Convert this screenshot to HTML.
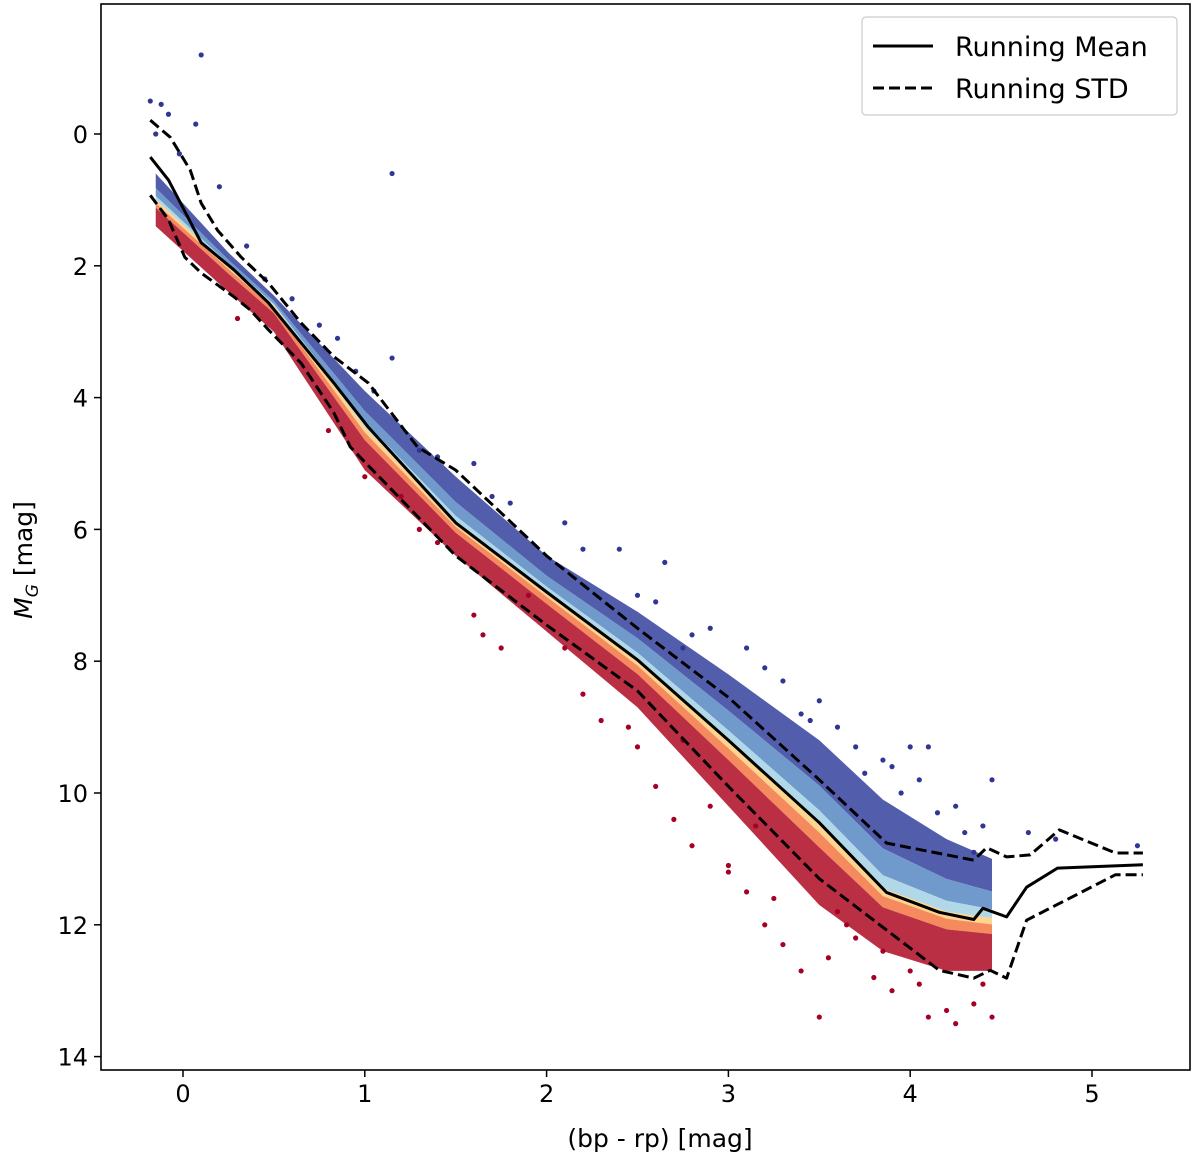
<!DOCTYPE html>
<html><head><meta charset="utf-8"><style>
html,body{margin:0;padding:0;background:#fff;}
svg{display:block;font-family:"DejaVu Sans","Liberation Sans",sans-serif;}
</style></head><body>
<svg id="chart" width="1200" height="1160" viewBox="0 0 1200 1160" xmlns="http://www.w3.org/2000/svg">
<g id="bands"></g>
<g id="dots"></g>
<g id="lines"></g>
<rect x="101" y="4" width="1089" height="1066" fill="none" stroke="#000" stroke-width="1.6"/>
<g id="xticks"></g>
<g id="yticks"></g>
<text x="660" y="1147" font-size="25" text-anchor="middle">(bp - rp) [mag]</text>
<text transform="translate(32,560) rotate(-90)" font-size="25" text-anchor="middle"><tspan font-style="italic">M</tspan><tspan font-style="italic" font-size="17" dy="6">G</tspan><tspan dy="-6"> [mag]</tspan></text>
<g>
<rect x="862" y="17" width="315" height="98" rx="4" fill="#fff" fill-opacity="0.8" stroke="#ccc" stroke-width="1.2"/>
<line x1="873" y1="46" x2="933" y2="46" stroke="#000" stroke-width="3"/>
<text x="955" y="56" font-size="27">Running Mean</text>
<line x1="873" y1="88" x2="933" y2="88" stroke="#000" stroke-width="3" stroke-dasharray="11,5"/>
<text x="955" y="98" font-size="27">Running STD</text>
</g>
</svg>
<script>
const xTicks=[0,1,2,3,4,5];
const yTicks=[0,2,4,6,8,10,12,14];
const meanX=[-0.18,-0.08,0.1,0.28,0.47,0.65,0.83,1.02,1.5,2.0,2.5,3.0,3.5,3.87,4.16,4.35,4.4,4.53,4.64,4.81,5.28];
const meanY=[0.35,0.7,1.65,2.06,2.56,3.17,3.78,4.45,5.9,6.95,7.98,9.2,10.45,11.51,11.81,11.92,11.75,11.88,11.43,11.14,11.09];
const upX=[-0.18,-0.07,0.04,0.1,0.19,0.32,0.47,0.65,0.83,1.02,1.29,1.5,2.0,2.5,3.0,3.5,3.87,4.35,4.42,4.53,4.66,4.82,5.13,5.28];
const upY=[-0.21,0.05,0.55,1.05,1.46,1.87,2.26,2.87,3.38,3.78,4.75,5.1,6.4,7.5,8.55,9.8,10.76,11.02,10.83,10.97,10.94,10.56,10.91,10.91];
const loX=[-0.18,-0.08,0.01,0.1,0.28,0.37,0.47,0.65,0.83,0.92,1.5,2.0,2.5,3.0,3.5,4.16,4.35,4.44,4.53,4.64,5.13,5.28];
const loY=[0.93,1.3,1.87,2.11,2.47,2.67,2.97,3.48,4.23,4.75,6.4,7.45,8.45,9.9,11.3,12.69,12.81,12.69,12.81,11.93,11.24,11.24];
const bandX=[-0.15,0.25,0.5,1.0,1.5,2.0,2.5,3.0,3.5,3.85,4.2,4.45];
const bandTop=[0.6,1.8,2.45,3.9,5.2,6.4,7.25,8.2,9.2,10.1,10.7,11.0];
const bandMid=[1.0,2.0,2.6,4.45,5.9,6.95,7.98,9.2,10.45,11.45,11.8,11.9];
const bandBot=[1.4,2.4,3.0,5.1,6.4,7.55,8.7,10.2,11.7,12.4,12.7,12.7];
const blueX=[0.1,-0.18,-0.12,-0.08,0.07,-0.15,-0.02,0.2,0.35,0.45,0.6,0.75,0.85,0.95,1.05,1.15,1.3,1.6,1.8,2.1,2.4,2.65,2.6,2.9,3.1,3.3,3.5,3.6,3.7,3.85,3.9,4.0,4.05,4.1,4.25,4.3,4.35,4.45,4.65,4.8,5.25,1.15,2.75,3.45,3.95,1.4,1.7,2.2,2.5,2.8,3.2,3.4,3.75,4.15,4.4];
const blueY=[-1.2,-0.5,-0.45,-0.3,-0.15,0.0,0.3,0.8,1.7,2.2,2.5,2.9,3.1,3.6,3.9,3.4,4.8,5.0,5.6,5.9,6.3,6.5,7.1,7.5,7.8,8.3,8.6,9.0,9.3,9.5,9.6,9.3,9.8,9.3,10.2,10.6,10.9,9.8,10.6,10.7,10.8,0.6,7.8,8.9,10.0,4.9,5.5,6.3,7.0,7.6,8.1,8.8,9.7,10.3,10.5];
const redX=[0.3,0.8,1.2,1.4,1.6,1.65,1.75,2.2,2.3,2.5,2.6,2.7,2.8,2.9,3.0,3.1,3.2,3.3,3.4,3.5,3.55,3.7,3.8,3.9,4.0,4.1,4.2,4.25,4.35,4.45,3.0,3.6,4.4,2.45,3.25,3.85,1.0,1.3,1.9,2.1,2.75,3.15,3.65,4.05];
const redY=[2.8,4.5,5.5,6.2,7.3,7.6,7.8,8.5,8.9,9.3,9.9,10.4,10.8,10.2,11.1,11.5,12.0,12.3,12.7,13.4,12.5,12.2,12.8,13.0,12.7,13.4,13.3,13.5,13.2,13.4,11.2,11.8,12.9,9.0,11.6,12.4,5.2,6.0,7.0,7.8,9.2,10.5,12.0,12.9];

const NS='http://www.w3.org/2000/svg';
const X0=101,X1=1190,Y0=4,Y1=1070;
function sx(v){return 183+v*181.8;}
function sy(v){return 134+v*65.9;}
function mk(tag,attrs,parent){const e=document.createElementNS(NS,tag);for(const k in attrs)e.setAttribute(k,attrs[k]);parent.appendChild(e);return e;}
const bands=document.getElementById('bands');
function poly(topArr,botArr,color,name){
  let pts=[];
  for(let i=0;i<bandX.length;i++)pts.push(sx(bandX[i])+','+sy(topArr[i]));
  for(let i=bandX.length-1;i>=0;i--)pts.push(sx(bandX[i])+','+sy(botArr[i]));
  const p=mk('polygon',{points:pts.join(' '),fill:color,'fill-opacity':0.88},bands);
  
  
}
const f=(a,b,t)=>a.map((v,i)=>v+t*(b[i]-v));
poly(bandTop,f(bandTop,bandMid,0.55),'#3a48a0','band-dark-blue');
poly(f(bandTop,bandMid,0.55),f(bandTop,bandMid,0.85),'#5b8cc4','band-mid-blue');
poly(f(bandTop,bandMid,0.85),bandMid,'#a6d3e6','band-light-blue');
poly(bandMid,f(bandMid,bandBot,0.12),'#fdcf7e','band-yellow');
poly(f(bandMid,bandBot,0.12),f(bandMid,bandBot,0.3),'#f47a48','band-orange');
poly(f(bandMid,bandBot,0.3),bandBot,'#b0122a','band-red');

const dots=document.getElementById('dots');
for(let i=0;i<blueX.length;i++){
  const c=mk('circle',{cx:sx(blueX[i]),cy:sy(blueY[i]),r:2.6,fill:'#313695'},dots);
  
  
}
for(let i=0;i<redX.length;i++){
  const c=mk('circle',{cx:sx(redX[i]),cy:sy(redY[i]),r:2.6,fill:'#a50026'},dots);
  
  
}
const lines=document.getElementById('lines');
function path(xs,ys,dash,name){
  const d=xs.map((x,i)=>(i?'L':'M')+sx(x).toFixed(1)+','+sy(ys[i]).toFixed(1)).join(' ');
  const p=mk('path',{d:d,fill:'none',stroke:'#000','stroke-width':3,'stroke-linejoin':'round'},lines);
  if(dash)p.setAttribute('stroke-dasharray','11,5');
  
  
}
path(meanX,meanY,false,'running-mean-line');
path(upX,upY,true,'running-std-upper-line');
path(loX,loY,true,'running-std-lower-line');

const xt=document.getElementById('xticks');
xTicks.forEach(v=>{
  const l=mk('line',{x1:sx(v),x2:sx(v),y1:Y1,y2:Y1+7,stroke:'#000','stroke-width':1.5},xt);
  
  
  const t=mk('text',{x:sx(v),y:Y1+32,'font-size':24,'text-anchor':'middle'},xt);
  t.textContent=v;
  
  
});
const yt=document.getElementById('yticks');
yTicks.forEach(v=>{
  const l=mk('line',{x1:X0-7,x2:X0,y1:sy(v),y2:sy(v),stroke:'#000','stroke-width':1.5},yt);
  
  
  const t=mk('text',{x:X0-13,y:sy(v)+9,'font-size':24,'text-anchor':'end'},yt);
  t.textContent=v;
  
  
});
</script>
</body></html>
